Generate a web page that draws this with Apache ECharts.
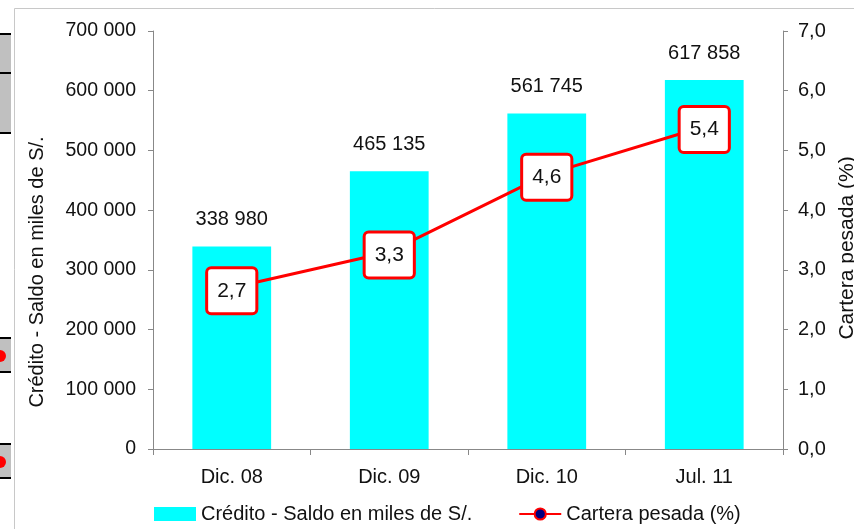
<!DOCTYPE html>
<html><head><meta charset="utf-8">
<script src="https://cdn.jsdelivr.net/npm/echarts@6/dist/echarts.min.js"></script>
<style>html,body{margin:0;padding:0;background:#fff;overflow:hidden}#c{width:854px;height:529px}</style>
</head><body><div id="c"></div>
<script>
const categories = ['Dic. 08', 'Dic. 09', 'Dic. 10', 'Jul. 11'];
const creditoValues = [338980, 465135, 561745, 617858];
const carteraValues = [2.7, 3.3, 4.6, 5.4];
const leftTicks = [0, 100000, 200000, 300000, 400000, 500000, 600000, 700000];
const rightTicks = [0, 1, 2, 3, 4, 5, 6, 7];

const fmtThousands = v => String(v).replace(/\B(?=(\d{3})+(?!\d))/g, ' ');
const fmtComma = (v, d) => Number(v).toFixed(d).replace('.', ',');
const font = 'Liberation Sans, Arial, sans-serif';

const chart = echarts.init(document.getElementById('c'));
chart.setOption({
  backgroundColor: '#fff',
  animation: false,
  graphic: [
    {type: 'rect', shape: {x: 14.5, y: 8.5, width: 900, height: 600}, style: {fill: 'none', stroke: '#c8c8c8', lineWidth: 1}, silent: true},
    {type: 'rect', shape: {x: 0, y: 33, width: 11, height: 100}, style: {fill: '#c0c0c0'}},
    {type: 'rect', shape: {x: 0, y: 337, width: 11, height: 35}, style: {fill: '#c0c0c0'}},
    {type: 'rect', shape: {x: 0, y: 443, width: 11, height: 35}, style: {fill: '#c0c0c0'}},
    {type: 'rect', shape: {x: 0, y: 33, width: 11, height: 2}, style: {fill: '#000'}},
    {type: 'rect', shape: {x: 0, y: 72, width: 11, height: 2}, style: {fill: '#000'}},
    {type: 'rect', shape: {x: 0, y: 132, width: 11, height: 2}, style: {fill: '#000'}},
    {type: 'rect', shape: {x: 0, y: 337, width: 11, height: 2}, style: {fill: '#000'}},
    {type: 'rect', shape: {x: 0, y: 371, width: 11, height: 2}, style: {fill: '#000'}},
    {type: 'rect', shape: {x: 0, y: 443, width: 11, height: 2}, style: {fill: '#000'}},
    {type: 'rect', shape: {x: 0, y: 477, width: 11, height: 2}, style: {fill: '#000'}},
    {type: 'circle', shape: {cx: 0, cy: 356, r: 6}, style: {fill: '#ff0000'}},
    {type: 'circle', shape: {cx: 0, cy: 462, r: 6}, style: {fill: '#ff0000'}}
  ],
  grid: {left: 153, right: 71, top: 31, bottom: 80, containLabel: false, outerBoundsMode: 'none'},
  legend: {
    bottom: 0, left: 149, itemGap: 46, itemWidth: 42, itemHeight: 14,
    textStyle: {fontFamily: font, fontSize: 20, color: '#111'},
    data: [
      {name: 'Crédito - Saldo en miles de S/.', icon: 'rect'},
      {name: 'Cartera pesada (%)'}
    ]
  },
  xAxis: {
    type: 'category', data: categories,
    axisLine: {lineStyle: {color: '#888', width: 1}},
    axisTick: {show: true, length: 6, lineStyle: {color: '#888'}},
    axisLabel: {fontFamily: font, fontSize: 20, color: '#111', margin: 18}
  },
  yAxis: [
    {
      type: 'value', min: 0, max: 700000, interval: 100000,
      name: 'Crédito - Saldo en miles de S/.', nameLocation: 'middle', nameGap: 106, nameRotate: 90,
      nameTextStyle: {fontFamily: font, fontSize: 20, color: '#111', padding: [0, 64, 0, 0]},
      axisLine: {show: true, lineStyle: {color: '#888'}},
      axisTick: {show: true, length: 5, lineStyle: {color: '#888'}},
      splitLine: {show: false},
      axisLabel: {fontFamily: font, fontSize: 19.5, color: '#111', margin: 17, formatter: v => fmtThousands(v)}
    },
    {
      type: 'value', min: 0, max: 7, interval: 1, position: 'right',
      name: 'Cartera pesada (%)', nameLocation: 'middle', nameGap: 52, nameRotate: 90,
      nameTextStyle: {fontFamily: font, fontSize: 21, color: '#111', padding: [0, 16, 0, 0]},
      axisLine: {show: true, lineStyle: {color: '#888'}},
      axisTick: {show: true, length: 5, lineStyle: {color: '#888'}},
      splitLine: {show: false},
      axisLabel: {fontFamily: font, fontSize: 20, color: '#111', margin: 15, formatter: v => fmtComma(v, 1)}
    }
  ],
  series: [
    {
      name: 'Crédito - Saldo en miles de S/.', type: 'bar', data: creditoValues,
      barWidth: '50%', itemStyle: {color: '#00ffff'},
      label: {show: true, position: 'top', distance: 17, fontFamily: font, fontSize: 20, color: '#111', formatter: p => fmtThousands(p.value)}
    },
    {
      name: 'Cartera pesada (%)', type: 'line', yAxisIndex: 1, data: carteraValues,
      lineStyle: {color: '#ff0000', width: 3}, symbol: 'circle', symbolSize: 9,
      itemStyle: {color: '#000080', borderColor: '#ff0000', borderWidth: 2},
      label: {
        show: true, position: 'inside', offset: [0, 3], fontFamily: font, fontSize: 21, lineHeight: 24, color: '#111',
        backgroundColor: '#fff', borderColor: '#ff0000', borderWidth: 3, borderRadius: 3,
        padding: [10, 9, 9, 9], formatter: p => fmtComma(p.value, 1)
      }
    }
  ]
});
</script></body></html>
